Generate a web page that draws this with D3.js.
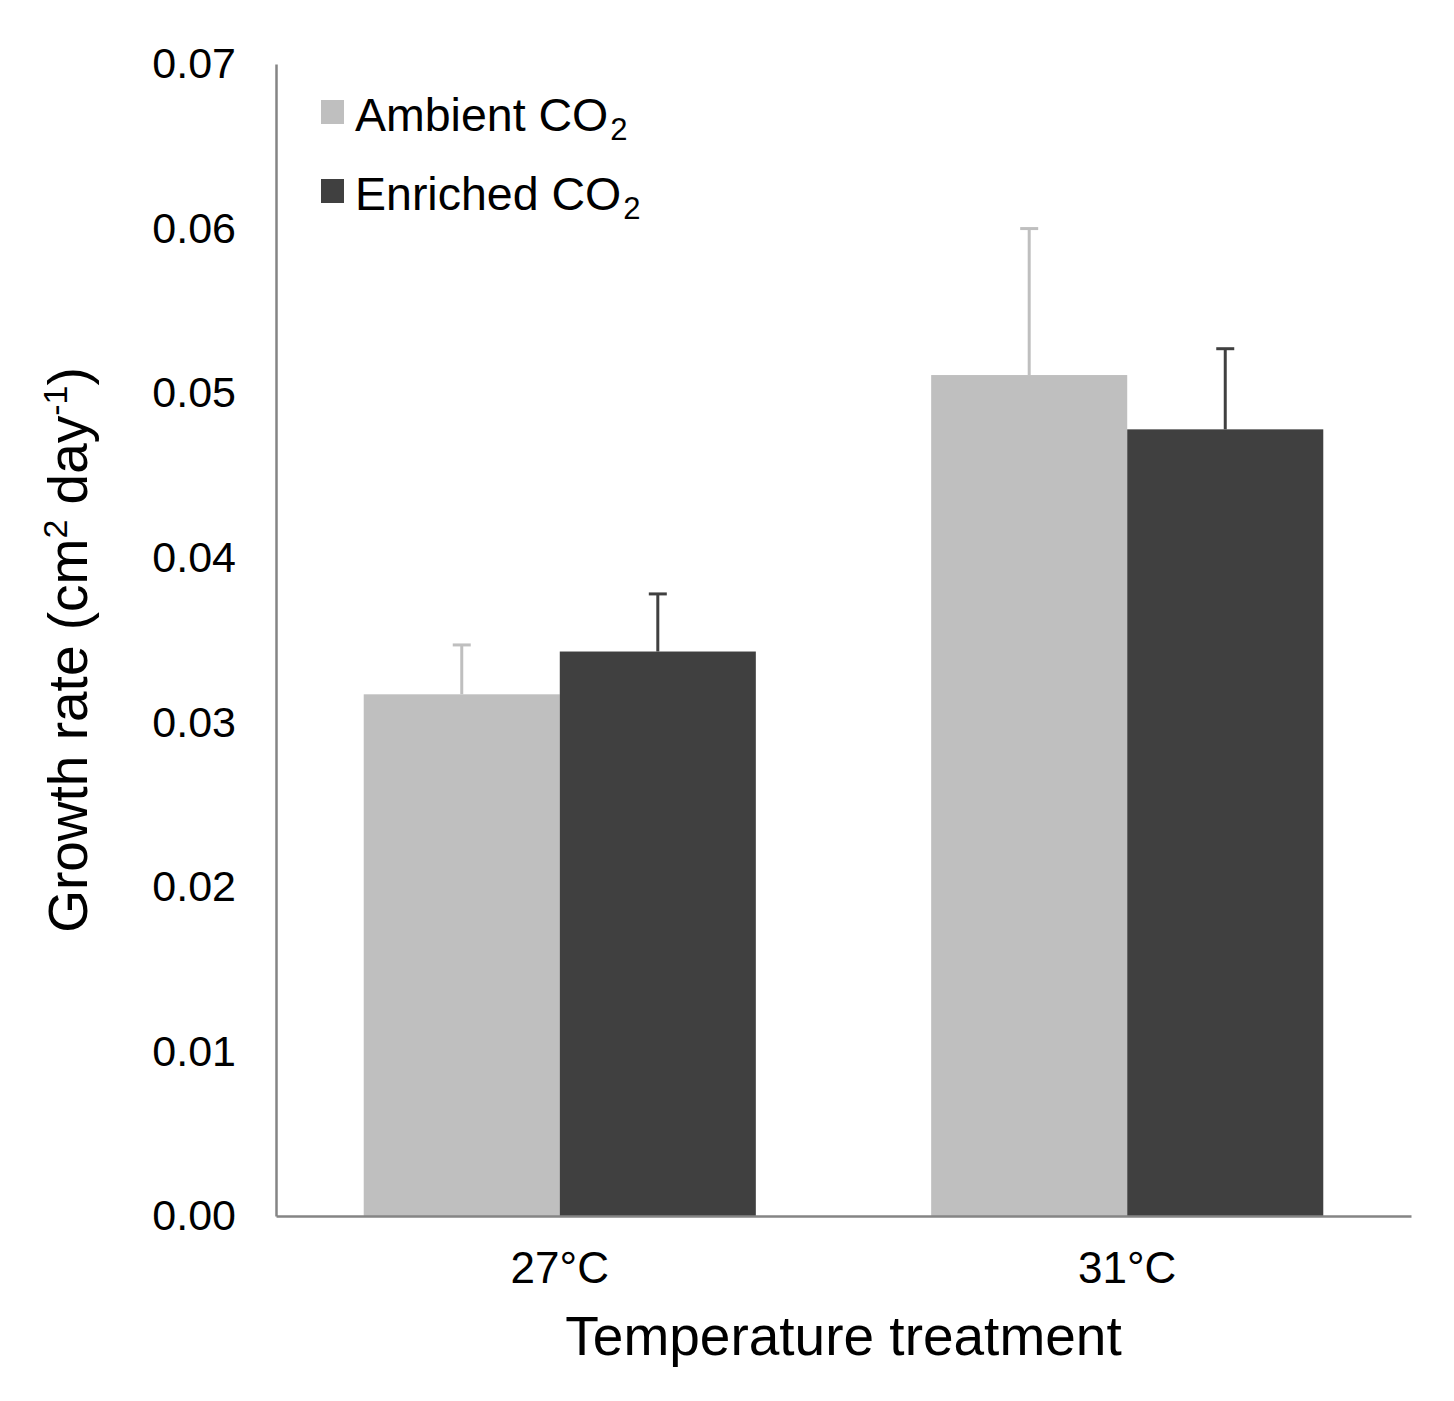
<!DOCTYPE html>
<html>
<head>
<meta charset="utf-8">
<script src="https://cdn.jsdelivr.net/npm/d3@7"></script>
<style>
  html, body { margin: 0; padding: 0; background: #fff; }
  svg { display: block; font-family: "Liberation Sans", Arial, sans-serif; }
</style>
</head>
<body>
<svg id="chart" width="1454" height="1401"></svg>
<script>
const categories = ["27°C", "31°C"];
const seriesNames = ["Ambient", "Enriched"];
const ambientValues = [0.0317, 0.0511];
const ambientErrors = [0.0030, 0.0089];
const enrichedValues = [0.0343, 0.0478];
const enrichedErrors = [0.0035, 0.0049];
const yTicks = [0, 0.01, 0.02, 0.03, 0.04, 0.05, 0.06, 0.07];
const colors = ["#bfbfbf", "#404040"];

const svg = d3.select("#chart");
const margin = { left: 276, right: 1411, top: 64, bottom: 1216 };

const y = d3.scaleLinear().domain([0, 0.07]).range([margin.bottom, margin.top]);
const x0 = d3.scaleBand().domain(categories).range([margin.left, margin.right])
  .paddingInner(0.309).paddingOuter(0.1546);
const x1 = d3.scaleBand().domain(seriesNames).range([0, x0.bandwidth()]).padding(0);

const data = [];
categories.forEach((c, i) => {
  data.push({ cat: c, series: "Ambient", value: ambientValues[i], err: ambientErrors[i], color: colors[0] });
  data.push({ cat: c, series: "Enriched", value: enrichedValues[i], err: enrichedErrors[i], color: colors[1] });
});

// bars
svg.append("g").selectAll("rect").data(data).join("rect")
  .attr("x", d => x0(d.cat) + x1(d.series))
  .attr("y", d => y(d.value))
  .attr("width", x1.bandwidth())
  .attr("height", d => y(0) - y(d.value))
  .attr("fill", d => d.color);

// error bars
const eg = svg.append("g");
data.forEach(d => {
  const cx = x0(d.cat) + x1(d.series) + x1.bandwidth() / 2;
  eg.append("line").attr("x1", cx).attr("x2", cx)
    .attr("y1", y(d.value)).attr("y2", y(d.value + d.err))
    .attr("stroke", d.color).attr("stroke-width", 3);
  eg.append("line").attr("x1", cx - 9).attr("x2", cx + 9)
    .attr("y1", y(d.value + d.err)).attr("y2", y(d.value + d.err))
    .attr("stroke", d.color).attr("stroke-width", 3);
});

// y axis
const yAxis = d3.axisLeft(y).tickValues(yTicks).tickFormat(d3.format(".2f")).tickSize(0).tickPadding(40);
const yg = svg.append("g").attr("transform", `translate(${margin.left},0)`).call(yAxis);
yg.select(".domain").attr("stroke", "#858585").attr("stroke-width", 2.5);
yg.selectAll("text").attr("font-size", 43).attr("fill", "#000")
  .attr("font-family", "Liberation Sans, Arial, sans-serif");

// x axis
const xAxis = d3.axisBottom(x0).tickSize(0).tickPadding(36);
const xg = svg.append("g").attr("transform", `translate(0,${margin.bottom})`).call(xAxis);
xg.select(".domain").attr("stroke", "#858585").attr("stroke-width", 2.5);
xg.selectAll("text").attr("font-size", 44).attr("fill", "#000")
  .attr("font-family", "Liberation Sans, Arial, sans-serif");

// x title
svg.append("text").attr("x", (margin.left + margin.right) / 2).attr("y", 1355)
  .attr("text-anchor", "middle").attr("font-size", 55).attr("fill", "#000")
  .text("Temperature treatment");

// y title
const yt = svg.append("text")
  .attr("transform", `translate(87, ${(margin.top + margin.bottom) / 2 + 10}) rotate(-90)`)
  .attr("text-anchor", "middle").attr("font-size", 55).attr("fill", "#000");
yt.append("tspan").text("Growth rate (cm");
yt.append("tspan").attr("font-size", 34).attr("dy", -20).text("2");
yt.append("tspan").attr("dy", 20).text(" day");
yt.append("tspan").attr("font-size", 34).attr("dy", -20).text("-1");
yt.append("tspan").attr("dy", 20).text(")");

// legend
const legendLabels = ["Ambient CO", "Enriched CO"];
const lg = svg.append("g");
legendLabels.forEach((lab, i) => {
  const yy = 100 + i * 79;
  lg.append("rect").attr("x", 321).attr("y", yy).attr("width", 23).attr("height", 24).attr("fill", colors[i]);
  const t = lg.append("text").attr("x", 355).attr("y", yy + 31).attr("font-size", 46.5).attr("fill", "#000");
  t.append("tspan").text(lab);
  t.append("tspan").attr("font-size", 31).attr("dy", 9).attr("dx", 2).text("2");
});
</script>
</body>
</html>
